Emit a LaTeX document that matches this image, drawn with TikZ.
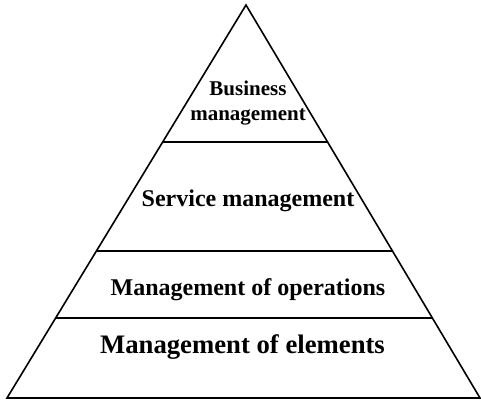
\documentclass[tikz,border=0pt]{standalone}
\usepackage{fontspec}
\setmainfont{Liberation Serif}
\usetikzlibrary{calc}
\begin{document}
\begin{tikzpicture}[x=1pt,y=-1pt,
    edge/.style={line width=1.6pt,line cap=round,line join=miter},
    tier/.style={line width=1.6pt},
    label/.style={font=\bfseries,anchor=base,inner sep=0pt,align=center}]
  \useasboundingbox (0,0) rectangle (481,401);
  % pyramid corners
  \coordinate (apex) at (246,5);
  \coordinate (bl) at (7,398);
  \coordinate (br) at (480,398);
  \draw[edge] (apex) -- (bl) -- (br) -- cycle;
  % tier dividers
  \foreach \t/\n in {0.3486/a,0.626/b,0.7964/c}{
    \coordinate (l\n) at ($(apex)!\t!(bl)$);
    \coordinate (r\n) at ($(apex)!\t!(br)$);
    \draw[tier] (l\n) -- (r\n);
  }
  % tier labels
  \node[label,font=\bfseries\fontsize{21}{25}\selectfont] (biz) at (248,95.7) {Business};
  \node[label,font=\bfseries\fontsize{21}{25}\selectfont] (bizm) at (248,121) {management};
  \node[label,font=\bfseries\fontsize{24}{28}\selectfont] (svc) at (248,206) {Service management};
  \node[label,font=\bfseries\fontsize{24}{28}\selectfont] (ops) at (248,295) {Management of operations};
  \node[label,font=\bfseries\fontsize{26.7}{30}\selectfont] (elm) at (242.5,353) {Management of elements};
\end{tikzpicture}
\end{document}
